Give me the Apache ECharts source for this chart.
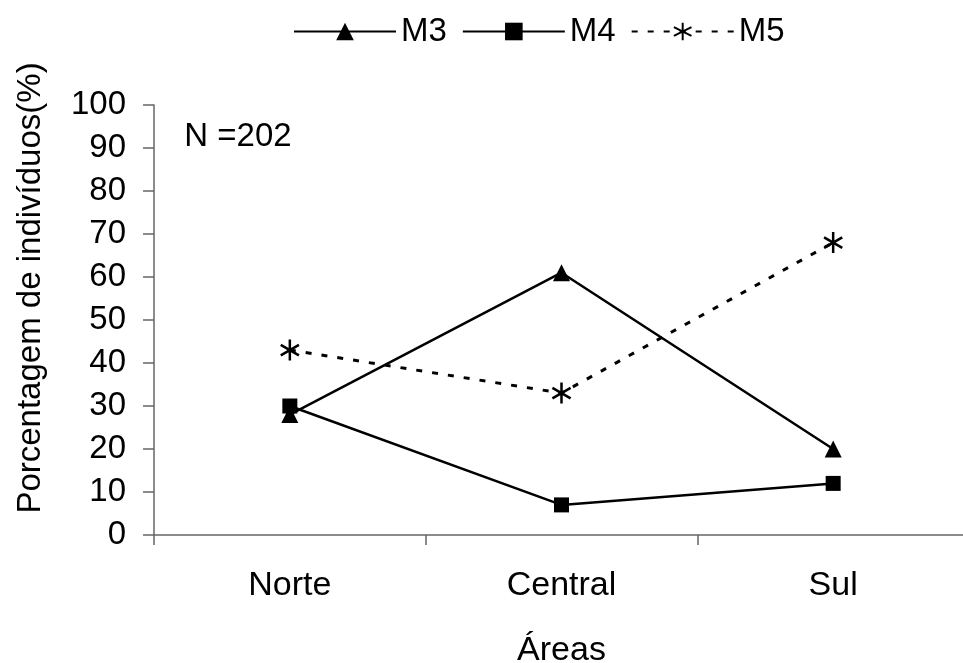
<!DOCTYPE html>
<html>
<head>
<meta charset="utf-8">
<script src="https://cdn.jsdelivr.net/npm/echarts@6/dist/echarts.min.js"></script>
<style>html,body{margin:0;padding:0;background:#fff;overflow:hidden;}#c{width:963px;height:663px;}</style>
</head>
<body>
<div id="c"></div>
<script>
const categories = ['Norte', 'Central', 'Sul'];
const m3 = [28, 61, 20];
const m4 = [30, 7, 12];
const m5 = [43, 33, 68];
const yTicks = [0, 10, 20, 30, 40, 50, 60, 70, 80, 90, 100];

const FONT = '"Liberation Sans", Arial, sans-serif';
const FS = 33;
const STAR = 'path://M0,-10L0,10M-8.66,-5L8.66,5M-8.66,5L8.66,-5';

const chart = echarts.init(document.getElementById('c'), null, {renderer: 'canvas'});
chart.setOption({
  animation: false,
  backgroundColor: '#fff',
  textStyle: {fontFamily: FONT},
  grid: {left: 154, right: -6, top: 105, bottom: 128, containLabel: false, outerBoundsMode: 'none'},
  legend: {
    top: 15, left: 293, padding: 0,
    itemWidth: 102, itemHeight: 22, itemGap: 15,
    textStyle: {fontFamily: FONT, fontSize: FS, color: '#000'},
    data: ['M3', 'M4', 'M5']
  },
  xAxis: {
    type: 'category',
    data: categories,
    boundaryGap: true,
    axisLine: {lineStyle: {color: '#666', width: 1.5}},
    axisTick: {show: true, length: 10, lineStyle: {color: '#666', width: 1.5}},
    axisLabel: {fontFamily: FONT, fontSize: 34, color: '#000', margin: 34},
    name: 'Áreas',
    nameLocation: 'middle',
    nameGap: 99,
    nameTextStyle: {fontFamily: FONT, fontSize: 34, color: '#000'}
  },
  yAxis: {
    type: 'value',
    min: yTicks[0], max: yTicks[yTicks.length - 1], interval: yTicks[1] - yTicks[0],
    axisLine: {show: true, lineStyle: {color: '#666', width: 1.5}},
    axisTick: {show: true, length: 11, lineStyle: {color: '#666', width: 1.5}},
    axisLabel: {fontFamily: FONT, fontSize: FS, color: '#000', margin: 28},
    splitLine: {show: false}
  },
  graphic: [
    {type: 'text', x: 31, y: 288, rotation: Math.PI / 2,
     style: {text: 'Porcentagem de indivíduos(%)', font: FS + 'px ' + FONT, fill: '#000', textAlign: 'center', textVerticalAlign: 'middle'}},
    {type: 'text', x: 238, y: 137,
     style: {text: 'N =202', font: FS + 'px ' + FONT, fill: '#000', textAlign: 'center', textVerticalAlign: 'middle'}}
  ],
  series: [
    {name: 'M3', type: 'line', data: m3, symbol: 'triangle', symbolSize: 17,
     lineStyle: {color: '#000', width: 2.5}, itemStyle: {color: '#000'}},
    {name: 'M4', type: 'line', data: m4, symbol: 'rect', symbolSize: 15,
     lineStyle: {color: '#000', width: 2.5}, itemStyle: {color: '#000'}},
    {name: 'M5', type: 'line', data: m5, symbol: STAR, symbolSize: 21, symbolKeepAspect: true,
     lineStyle: {color: '#000', width: 3, type: [6, 10]},
     itemStyle: {color: 'none', borderColor: '#000', borderWidth: 2.5}}
  ]
});
</script>
</body>
</html>
